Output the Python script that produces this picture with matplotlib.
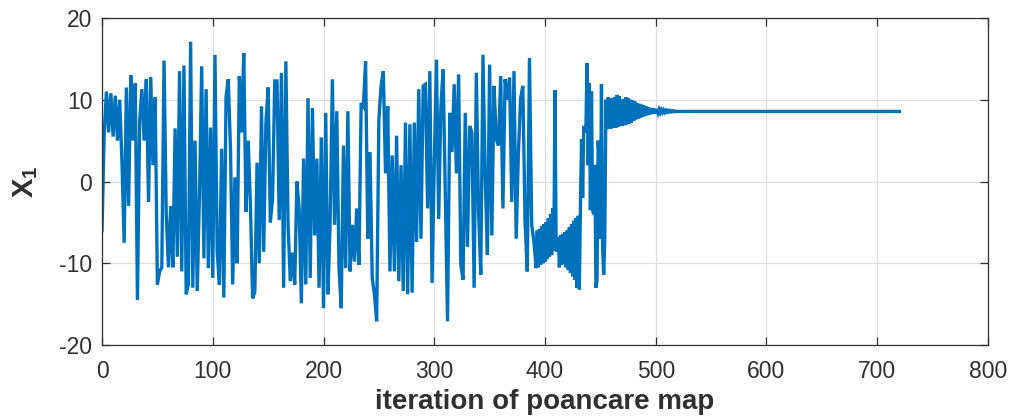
import numpy as np
import matplotlib
matplotlib.use("Agg")
import matplotlib.pyplot as plt

# ---- data ----
# chaotic part, sampled every 2 iterations (0..390)
chaos_start, chaos_step = 0, 2
x1_chaos = [
    -6, 6, 11, 6, 10.8, 5.5, 10.5, 5, 10, 2.5, -7.5, 11.5, -3, 13, 5, 12, -14.5, 7.5, 11.3, 5,
    12.5, -2.5, 12.8, 2, 10.3, -12.6, -11, -10.5, 14.8, -4, -10.5, -3, -10.5, 6.5, -9.2, 13.5, -11, 14.2, -13.8,
    -12.6, 17.1, -13, 5, -13.4, -1.7, 14.1, -9.4, 11.3, -10.6, 6.6, -11.8, 15.5, -8.6, -12.6, 4, -14.2, 10.4,
    12.5, 4, -12.6, 0.5, -10, 12.9, 6, 15.7, -3.7, 5, -2.8, -14.3, -13.5, 2.3, -10, 9.2, -8.6, 7.2, 11.5, -5,
    -2.1, 12.3,
    12.3, -4.7, 13.3, -13, 14.7, -5.3, -12.2, -8.7, -12.6, 0, -3.3, -14.9, 2.8, -12.6, 10.2, -11.8, 9, -6.6,
    2.8, -13, 5.4, -15.5, 8.4, -13.8, -5, 12.5, -5.3, 8.6, -10.6, -15.5, 4.4, -10.6, 8.6, -11, -5.3, -9.8,
    -3.3, -10.2, 9.6,
    9.2, 14.7, -7, 3.6, -11.8, -13.8, -17.1, 7.6, 11.7, 13.5, 1, 9.2, -11, 3.2, -11, 5.6, -12.2, 2, -13.4,
    7.2, -13.8, 7, -13.6, 7.2, -7.4, 11.3, -7, 11.7, 11.9, -3.3, 13.5, -12.4, 2, 14.9, -4.6, 9.2, 13.7,
    -1.7, -17.1, 8.4,
    3.6, 11.9, 1, 13.1, -10.2, -12, 8.4, -8, 6.8, 6, -13, 13.3, -3.7, -11.4, 15.5, 0.5, -9, 14.3, -6.6,
    11.7, 5.2, 4.4, 12.9, -3.3, 12.5, 10, 12.7, -2.5, 13.5, -7, 3.6, 10.2, 11.7, -4.9, -11, 15.1, -5.3,
    -7.4,
]

# settling part, every iteration from 392
tail_start = 392
x1_tail = [
    -10.6, -6, -10.5, -5.8, -10.2, -5.5, -10, -5.2, -9.8, -5, -9.5, -4.5, -9.2, -4, -9, -3.3,
    -8.5, 11.2, -6.5, -8.6, -6.8, -10.5, -6.6, -10.2, -6.4, -10, -6.2, -10.5, -6, -10.8, -5.6, -11.2,
    -5.2, -11.6, -4.8, -12, -4.5, -13, -4.2, -13.2, -3, 5.2, -2, 6.8, 6, 7, 14.5, 2, 12, -3.5, 11,
    -3.5, -4, 2, -13, -12, 5, 2.3, -7, 11.9, -8, -11.4, -7, 10,
    6.4, 10.3, 6.5, 10.2, 6.5, 10.2, 6.6, 10.3, 6.6, 10.6, 6.7, 10.4, 6.8, 10.0, 6.8, 10.1, 6.9, 10.3,
    7.0, 10.2, 7.1, 10.0, 7.2, 9.9, 7.4, 9.8, 7.6, 9.6, 7.7, 9.5, 7.8, 9.4, 7.9, 9.3, 8.0, 9.2, 8.1,
    9.1, 8.2, 9.0, 8.25, 8.95, 8.3, 8.9, 8.35, 8.85, 8.4, 8.8, 8.42, 8.75, 8.45, 8.72, 8.47, 8.7, 8.5,
    8.68, 8.52, 8.66, 8.53, 8.64, 8.54, 8.62, 8.55, 8.6,
]
steady_value = 8.57
last_iter = 720

xticks = [0, 100, 200, 300, 400, 500, 600, 700, 800]
yticks = [-20, -10, 0, 10, 20]
xlabel = "iteration of poancare map"

# ---- build series ----
it_chaos = np.arange(len(x1_chaos)) * chaos_step + chaos_start
it_tail = np.arange(len(x1_tail)) + tail_start
it_steady = np.arange(it_tail[-1] + 1, last_iter + 1)
iters = np.concatenate([it_chaos, it_tail, it_steady])
vals = np.concatenate([x1_chaos, x1_tail, np.full(len(it_steady), steady_value)])

plt.rcParams['font.family'] = ['Liberation Sans', 'DejaVu Sans']
plt.rcParams['mathtext.fontset'] = 'custom'
plt.rcParams['mathtext.rm'] = 'Liberation Sans'
plt.rcParams['mathtext.bf'] = 'Liberation Sans:bold'
plt.rcParams['axes.unicode_minus'] = False

txt = '#303030'
fig = plt.figure(figsize=(10.13, 4.2), dpi=100)
ax = fig.add_axes([0.1007, 0.1786, 0.8746, 0.7785])
ax.plot(iters, vals, color='#0072BD', linewidth=2.4, solid_joinstyle='miter')

ax.set_xlim(0, 800)
ax.set_ylim(-20, 20)
ax.set_xticks(xticks)
ax.set_yticks(yticks)
ax.grid(True, color='#dedede', linewidth=0.9)
ax.set_axisbelow(True)
for s in ax.spines.values():
    s.set_color(txt)
    s.set_linewidth(0.9)
ax.tick_params(direction='in', length=6, width=0.9, colors=txt, pad=7,
               labelsize=16.5, top=True, right=True, labeltop=False, labelright=False)
ax.tick_params(axis='x', pad=11)
ax.set_xlabel(xlabel, fontsize=20, fontweight='bold', color=txt, labelpad=4)
ax.set_ylabel(r'$\mathbf{X_1}$', fontsize=21, color=txt, labelpad=14)

fig.savefig('out.png', dpi=100)
